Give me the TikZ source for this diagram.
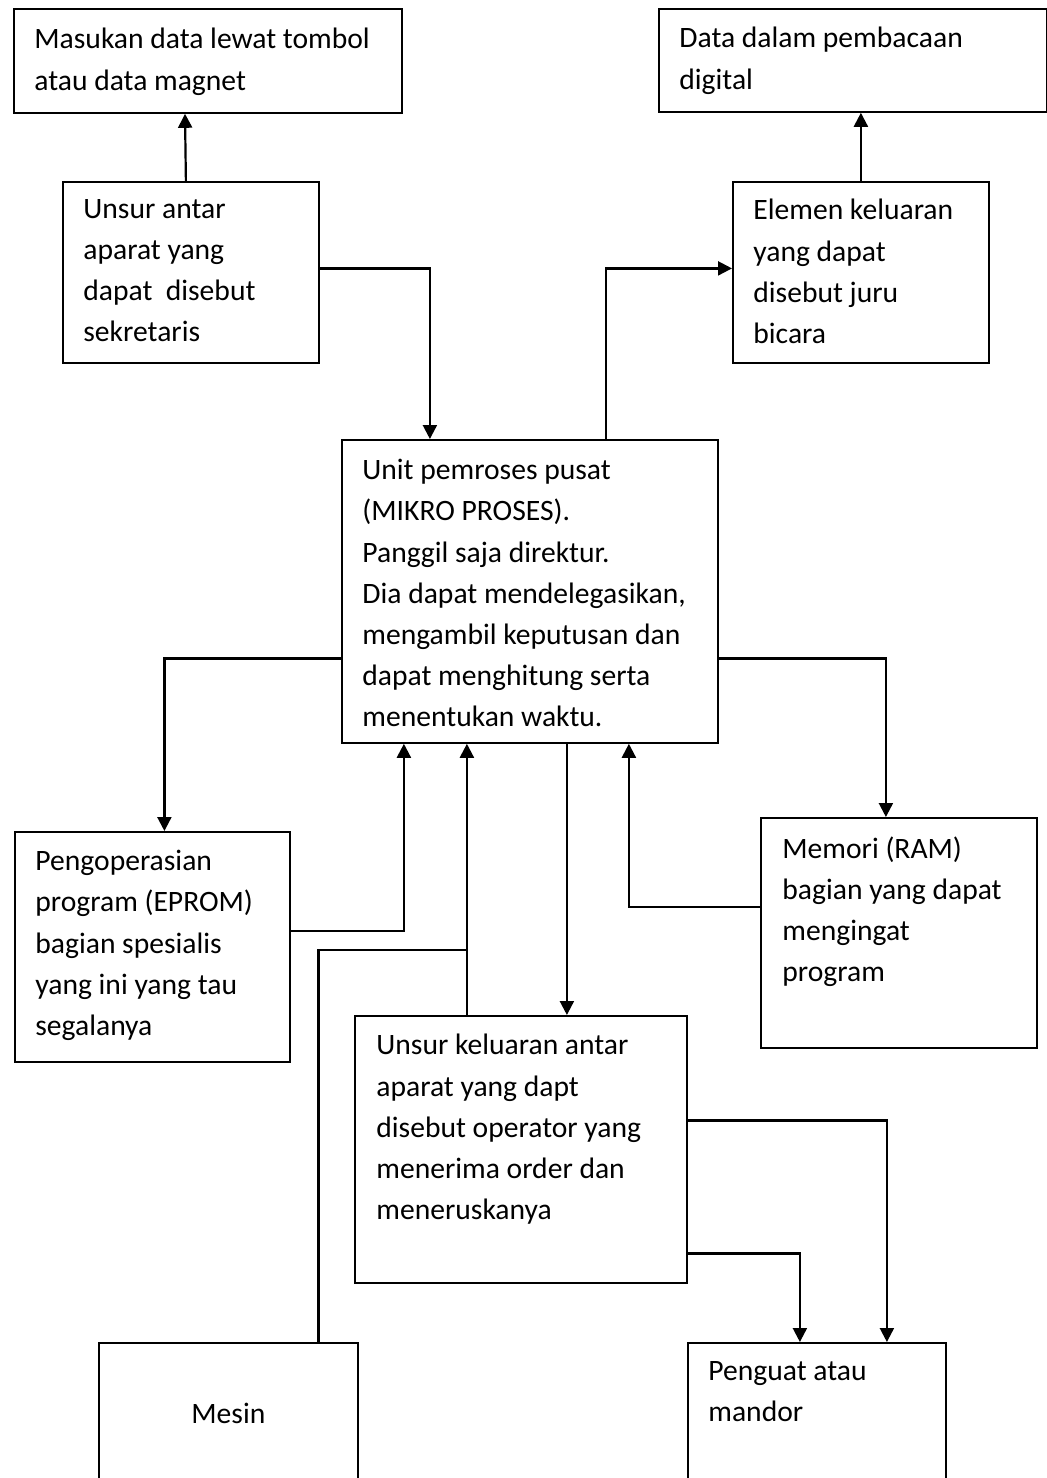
\documentclass[tikz,border=0pt]{standalone}
\usepackage{fontspec}
\setmainfont{Carlito}
\usetikzlibrary{arrows.meta,calc,positioning}

\tikzset{
    kotak/.style 2 args={draw, line width=0.9pt, inner sep=0pt, anchor=north west,
        minimum width=#1, minimum height=#2},
    teks/.style={inner sep=0pt, anchor=north west, align=left,
        font=\fontsize{14.8}{20.6}\selectfont, execute at begin node=\strut},
    garis/.style={line width=1.1pt},
    panah/.style={garis, -{Triangle[width=7pt,length=7pt]}}
}

\begin{document}
\begin{tikzpicture}[x=0.5pt, y=-0.5pt]
        \useasboundingbox (0,0) rectangle (1047,1478);
        % kotak-kotak
        \node[kotak={194pt}{52pt}] (inputData) at (13,8) {};
        \node[kotak={194pt}{51.5pt}] (outputData) at (658,8) {};
        \node[kotak={128pt}{90.5pt}] (sekretaris) at (62,181) {};
        \node[kotak={128pt}{90.5pt}] (juruBicara) at (732,181) {};
        \node[kotak={188pt}{151.5pt}] (direktur) at (341,439) {};
        \node[kotak={137.5pt}{115pt}] (eprom) at (14,831) {};
        \node[kotak={138pt}{115pt}] (memori) at (760,817) {};
        \node[kotak={166pt}{133.5pt}] (operator) at (354,1015) {};
        \node[kotak={129.5pt}{80pt}] (mesin) at (98,1342) {};
        \node[kotak={129pt}{80pt}] (mandor) at (687,1342) {};

        % isi teks
        \node[teks] (inputText) at ($(inputData.north west)+(21,20)$) {Masukan data lewat tombol\\atau data magnet};
        \node[teks] (outputText) at ($(outputData.north west)+(21,19)$) {Data dalam pembacaan\\digital};
        \node[teks] (sekretarisText) at ($(sekretaris.north west)+(21,18)$) {Unsur antar\\aparat yang\\dapat\ \ disebut\\sekretaris};
        \node[teks] (juruBicaraText) at ($(juruBicara.north west)+(21,18)$) {Elemen keluaran\\yang dapat\\disebut juru\\bicara};
        \node[teks] (direkturText) at ($(direktur.north west)+(21,20)$) {Unit pemroses pusat\\(MIKRO PROSES).\\Panggil saja direktur.\\Dia dapat mendelegasikan,\\mengambil keputusan dan\\dapat menghitung serta\\menentukan waktu.};
        \node[teks] (epromText) at ($(eprom.north west)+(21,19)$) {Pengoperasian\\program (EPROM)\\bagian spesialis\\yang ini yang tau\\segalanya};
        \node[teks] (memoriText) at ($(memori.north west)+(22,19)$) {Memori (RAM)\\bagian yang dapat\\mengingat\\program};
        \node[teks] (operatorText) at ($(operator.north west)+(22,19)$) {Unsur keluaran antar\\aparat yang dapt\\disebut operator yang\\menerima order dan\\meneruskanya};
        \node[teks, anchor=base] (mesinText) at ($(mesin.north)+(0,81)$) {Mesin};
        \node[teks] (mandorText) at ($(mandor.north west)+(21,19)$) {Penguat atau\\mandor};

        % titik bantu
        \coordinate (cpuIn) at ($(direktur.north)+(-100,0)$);
        \coordinate (cpuOut) at ($(direktur.north)+(76,0)$);
        \coordinate (cpuDown) at ($(direktur.south)+(37,0)$);
        \coordinate (opUp) at ($(operator.north)+(-54,0)$);
        \coordinate (junction) at ($(opUp)+(0,-65)$);

        % panah
        \draw[panah] (sekretaris.north) ++(-5,0) -- (inputData.south -| 185,0);
        \draw[panah] (juruBicara.north) -- (outputData.south -| juruBicara.north);
        \draw[panah] ($(sekretaris.east)+(0,-4)$) -| (cpuIn);
        \draw[panah] (cpuOut) |- ($(juruBicara.west)+(0,-4)$);
        \draw[panah] ($(direktur.west)+(0,67)$) -| ($(eprom.north)+(12,0)$);
        \draw[panah] ($(direktur.east)+(0,67)$) -| ($(memori.north)+(-13,0)$);
        \draw[panah] ($(eprom.east)+(0,-16)$) -| ($(direktur.south)+(-126,0)$);
        \draw[panah] ($(memori.west)+(0,-26)$) -| ($(direktur.south)+(99,0)$);
        \draw[panah] (cpuDown) -- (cpuDown |- operator.north);
        \draw[panah] (opUp) -- (opUp |- direktur.south);
        \draw[garis] ($(mesin.north)+(90,0)$) |- (junction);
        \draw[panah] ($(operator.east)+(0,-29)$) -| ($(mandor.north)+(70,0)$);
        \draw[panah] ($(operator.east)+(0,104)$) -| ($(mandor.north)+(-17,0)$);
\end{tikzpicture}
\end{document}
